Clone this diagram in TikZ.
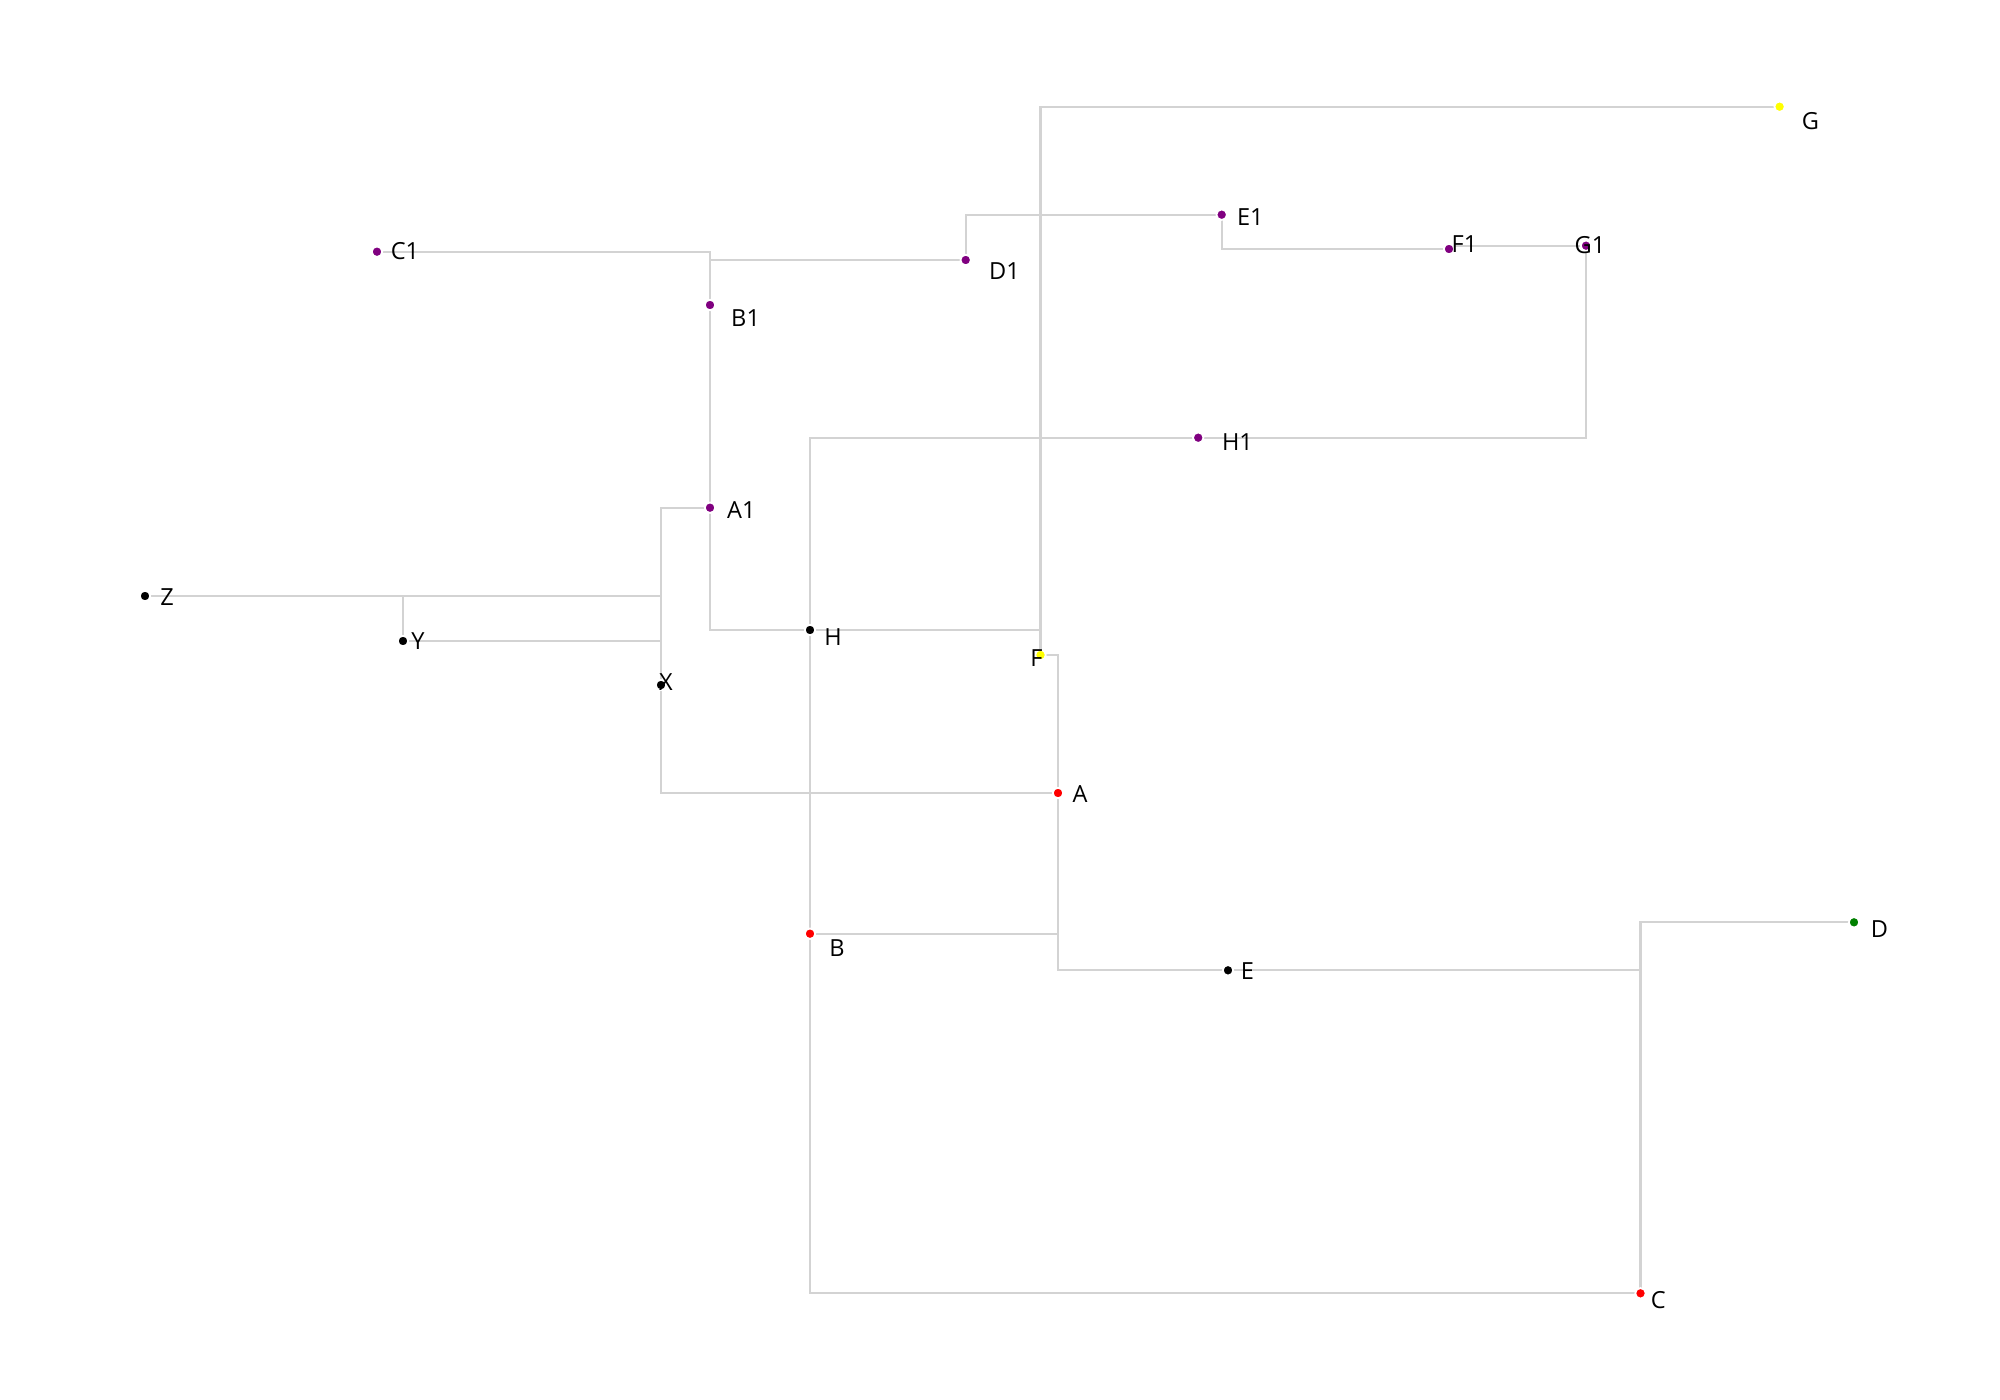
\documentclass[tikz,border=0pt]{standalone}
\usepackage{fontspec}
\setmainfont{Open Sans}
\usetikzlibrary{backgrounds}
\definecolor{edgegray}{HTML}{D3D3D3}
\definecolor{dotpurple}{HTML}{800080}
\definecolor{dotgreen}{HTML}{008000}
\definecolor{dotred}{HTML}{FF0000}
\definecolor{dotyellow}{HTML}{FFFF00}
\tikzset{
  dot/.style={circle, inner sep=0pt, minimum size=0.105cm, draw=white, line width=0.5pt, fill=#1},
  lbl/.style={inner sep=0pt, anchor=center, font=\fontsize{6.7pt}{7pt}\selectfont, text=black},
  edge/.style={draw=edgegray, line width=0.6pt}
}
\begin{document}
\begin{tikzpicture}[x=0.01cm, y=-0.01cm]
\useasboundingbox (0,0) rectangle (2000,1400);
% dots
\node[dot=black] (Z) at (145,596) {};
\node[dot=black] (Y) at (403,641) {};
\node[dot=black] (X) at (661,685) {};
\node[dot=dotpurple] (A1) at (710,507.7) {};
\node[dot=dotpurple] (B1) at (710,305) {};
\node[dot=dotpurple] (C1) at (377,251.7) {};
\node[dot=dotpurple] (D1) at (965.7,260) {};
\node[dot=dotpurple] (E1) at (1221.7,214.7) {};
\node[dot=dotpurple] (F1) at (1449,249) {};
\node[dot=dotpurple] (G1) at (1586,245.7) {};
\node[dot=dotpurple] (H1) at (1198.2,437.7) {};
\node[dot=black] (H) at (810,630) {};
\node[dot=dotyellow] (F) at (1040.5,655) {};
\node[dot=dotyellow] (G) at (1779.6,106.7) {};
\node[dot=dotred] (A) at (1058,793) {};
\node[dot=dotred] (B) at (810,933.7) {};
\node[dot=black] (E) at (1228,970.3) {};
\node[dot=dotgreen] (D) at (1854,922.3) {};
\node[dot=dotred] (C) at (1640.5,1293.3) {};
% edges
\begin{scope}[on background layer]
\draw[edge] (Z.center) -| (X.center);
\draw[edge] (Y.center) -| (X.center);
\draw[edge] (Y.center) |- (Z.center);
\draw[edge] (X.center) |- (A1.center);
\draw[edge] (X.center) |- (A.center);
\draw[edge] (A1.center) -- (B1.center);
\draw[edge] (A1.center) |- (H.center);
\draw[edge] (B1.center) |- (C1.center);
\draw[edge] (B1.center) |- (D1.center);
\draw[edge] (D1.center) |- (E1.center);
\draw[edge] (E1.center) |- (F1.center);
\draw[edge] (F1.center) |- (G1.center);
\draw[edge] (G1.center) |- (H1.center);
\draw[edge] (H1.center) -| (H.center);
\draw[edge] (H.center) -| (F.center);
\draw[edge] (F.center) |- (G.center);
\draw[edge] (F.center) -| (A.center);
\draw[edge] (A.center) |- (E.center);
\draw[edge] (B.center) -| (A.center);
\draw[edge] (H.center) -- (B.center);
\draw[edge] (B.center) |- (C.center);
\draw[edge] (E.center) -| (C.center);
\draw[edge] (C.center) |- (D.center);
\end{scope}
% labels
\node[lbl] (Zl) at (167,597.5) {Z};
\node[lbl] (Yl) at (418,641.5) {Y};
\node[lbl] (Xl) at (666,682) {X};
\node[lbl] (Hl) at (833,637) {H};
\node[lbl] (Fl) at (1036.5,658.5) {F};
\node[lbl] (Al) at (1080,794.5) {A};
\node[lbl] (Bl) at (837,948) {B};
\node[lbl] (El) at (1247.5,970.8) {E};
\node[lbl] (Dl) at (1879.5,928.7) {D};
\node[lbl] (Cl) at (1658.3,1300.5) {C};
\node[lbl] (Gl) at (1810.5,121.5) {G};
\node[lbl] (A1l) at (741.3,509.7) {A1};
\node[lbl] (B1l) at (745.6,318) {B1};
\node[lbl] (C1l) at (405,250.8) {C1};
\node[lbl] (D1l) at (1004.4,271) {D1};
\node[lbl] (E1l) at (1250.3,216.7) {E1};
\node[lbl] (F1l) at (1464.5,243.8) {F1};
\node[lbl] (G1l) at (1590,245) {G1};
\node[lbl] (H1l) at (1237.5,441.7) {H1};
\end{tikzpicture}
\end{document}
